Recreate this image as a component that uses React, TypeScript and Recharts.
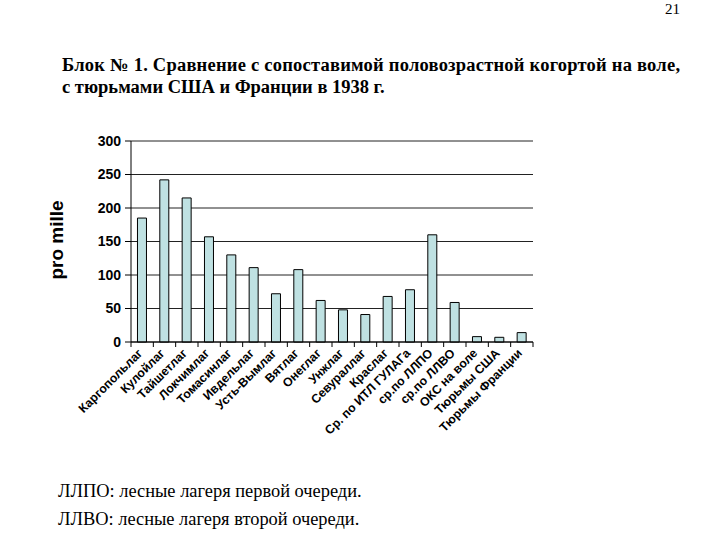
import React from "react";
import { BarChart, Bar, XAxis, YAxis, CartesianGrid } from "recharts";

// categories (camps + comparison groups) and rates per 1000
const categories = [
  "Каргопольлаг",
  "Кулойлаг",
  "Тайшетлаг",
  "Локчимлаг",
  "Томасинлаг",
  "Ивдельлаг",
  "Усть-Вымлаг",
  "Вятлаг",
  "Онеглаг",
  "Унжлаг",
  "Севураллаг",
  "Краслаг",
  "Ср. по ИТЛ ГУЛАГа",
  "ср.по ЛЛПО",
  "ср.по ЛЛВО",
  "ОКС на воле",
  "Тюрьмы США",
  "Тюрьмы Франции",
];
const values = [185, 242, 215, 157, 130, 111, 72, 108, 62, 48, 41, 68, 78, 160, 59, 8, 7, 14];
const yTicks = [0, 50, 100, 150, 200, 250, 300];

const data = categories.map((name, i) => ({ name, value: values[i] }));

const W = 715;
const H = 535;
const PLOT_LEFT = 131;
const PLOT_RIGHT = 533;
const PLOT_TOP = 141;
const PLOT_BOTTOM = 342;
const Y_AXIS_W = 50;
const X_AXIS_H = 100;
const BAND = (PLOT_RIGHT - PLOT_LEFT) / categories.length;

const SANS = "'Liberation Sans', Arial, sans-serif";
const SERIF = "'Liberation Serif', 'Times New Roman', serif";

const XTick = (props: any) => {
  const { x, y, payload, index } = props;
  const last = index === categories.length - 1;
  return (
    <g>
      <line x1={x - BAND / 2} y1={y} x2={x - BAND / 2} y2={y + 5} stroke="#000" />
      {last && <line x1={x + BAND / 2} y1={y} x2={x + BAND / 2} y2={y + 5} stroke="#000" />}
      <text
        x={0}
        y={0}
        transform={`translate(${x + 1},${y + 12}) rotate(-45)`}
        textAnchor="end"
        fontFamily={SANS}
        fontWeight="bold"
        fontSize={12.3}
        fill="#000"
      >
        {payload.value}
      </text>
    </g>
  );
};

export default function App() {
  return (
    <div style={{ position: "absolute", left: 0, top: 0, width: W, height: H, background: "#fff" }}>
      <BarChart
        width={W}
        height={H}
        data={data}
        margin={{
          top: PLOT_TOP,
          right: W - PLOT_RIGHT,
          bottom: H - PLOT_BOTTOM - X_AXIS_H,
          left: PLOT_LEFT - Y_AXIS_W,
        }}
        barCategoryGap="29%"
      >
        <CartesianGrid vertical={false} stroke="#222" strokeWidth={1} />
        <XAxis
          dataKey="name"
          interval={0}
          height={X_AXIS_H}
          tickLine={false}
          tickSize={0}
          tickMargin={0}
          axisLine={{ stroke: "#000" }}
          tick={<XTick />}
        />
        <YAxis
          domain={[0, 300]}
          ticks={yTicks}
          width={Y_AXIS_W}
          tickSize={6}
          tickMargin={4}
          axisLine={{ stroke: "#000" }}
          tickLine={{ stroke: "#000" }}
          tick={{ fill: "#000", fontFamily: SANS, fontWeight: "bold", fontSize: 14 }}
        />
        <YAxis
          yAxisId="right"
          orientation="right"
          domain={[0, 300]}
          width={0}
          tick={false}
          tickLine={false}
          axisLine={{ stroke: "#000" }}
        />
        <Bar dataKey="value" fill="#bfe1e2" stroke="#000" strokeWidth={1} isAnimationActive={false} />
      </BarChart>

      <svg
        width={W}
        height={H}
        style={{ position: "absolute", left: 0, top: 0, pointerEvents: "none" }}
      >
        <text x={680} y={14} textAnchor="end" fontFamily={SERIF} fontSize={15} fill="#000">
          21
        </text>
        <text
          x={62}
          y={71}
          fontFamily={SERIF}
          fontWeight="bold"
          fontSize={18.5}
          fill="#000"
          textLength={618}
          lengthAdjust="spacing"
        >
          Блок № 1. Сравнение с сопоставимой половозрастной когортой на воле,
        </text>
        <text x={62} y={93} fontFamily={SERIF} fontWeight="bold" fontSize={18.5} fill="#000">
          с тюрьмами США и Франции в 1938 г.
        </text>
        <text
          x={0}
          y={0}
          transform="translate(63,240) rotate(-90)"
          textAnchor="middle"
          fontFamily={SANS}
          fontWeight="bold"
          fontSize={19}
          fill="#000"
        >
          pro mille
        </text>
        <text x={58} y={497} fontFamily={SERIF} fontSize={18.4} fill="#000">
          ЛЛПО: лесные лагеря первой очереди.
        </text>
        <text x={58} y={525} fontFamily={SERIF} fontSize={18.4} fill="#000">
          ЛЛВО: лесные лагеря второй очереди.
        </text>
      </svg>
    </div>
  );
}
